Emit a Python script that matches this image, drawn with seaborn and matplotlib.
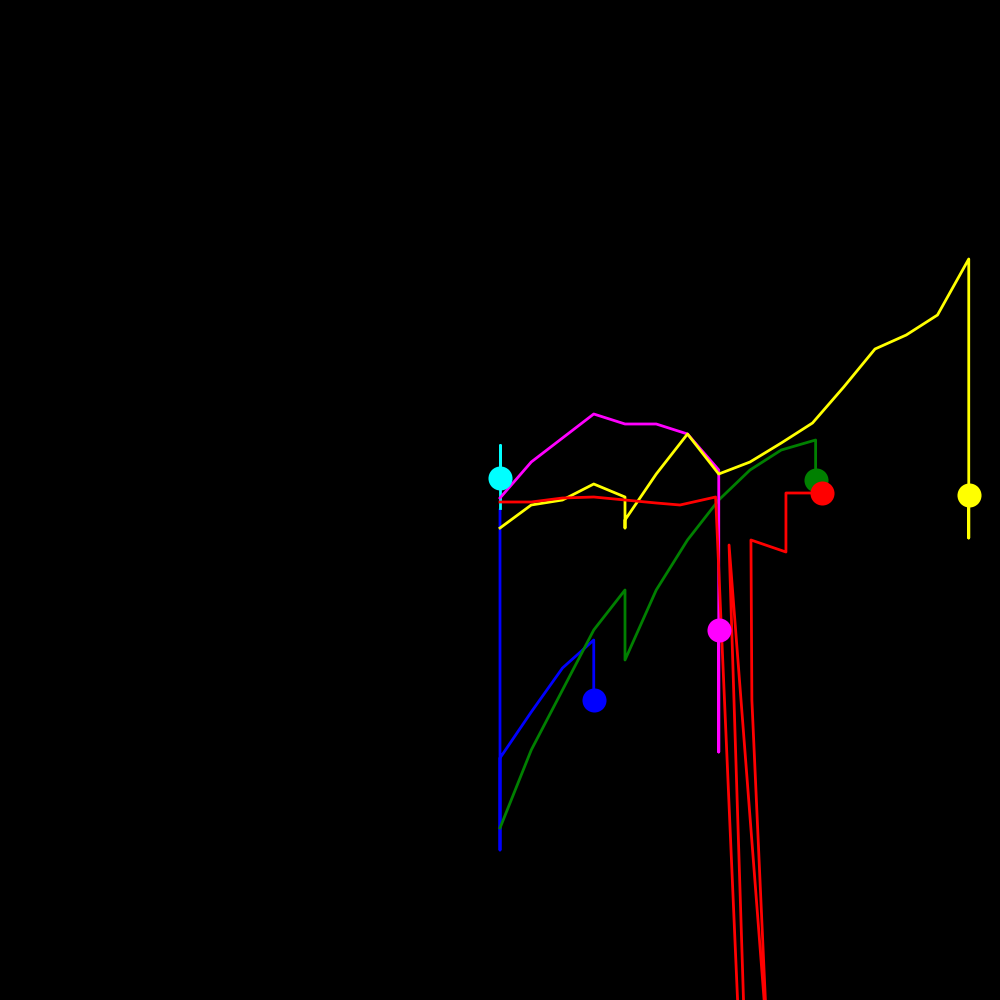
import matplotlib
matplotlib.use('Agg')
import matplotlib.pyplot as plt
import seaborn as sns

# ── Paths (x = step, y = level) ──────────────────────────────
cyan_x = [16, 16, 16]
cyan_y = [49.2, 55.5, 52.2]

blue_x = [16, 16, 16, 17, 18, 19, 19]
blue_y = [49.0, 15.0, 24.2, 28.8, 33.2, 36.0, 30.0]

green_x = [16, 17, 18, 19, 20, 20, 21, 22, 23, 24, 25, 26.1, 26.1]
green_y = [17.2, 25.0, 31.0, 37.0, 41.0, 34.0, 41.0, 46.0, 50.0, 53.0, 55.0, 56.0, 52.0]

magenta_x = [16, 17, 18, 19, 20, 21, 22, 23, 23, 23]
magenta_y = [50.2, 53.8, 56.2, 58.6, 57.6, 57.6, 56.6, 53.0, 24.8, 37.0]

yellow_x = [16, 17, 18, 19, 20, 20, 20, 21, 22, 23, 24, 25, 26, 27, 28, 29, 30, 31, 31, 31]
yellow_y = [47.2, 49.5, 50.0, 51.6, 50.3, 47.2, 48.0, 52.6, 56.6, 52.6, 53.8, 55.7,
            57.7, 61.3, 65.1, 66.5, 68.5, 74.1, 46.2, 50.5]

red_x = [16, 17, 18, 19, 20, 21, 21.76, 22.9, 24.3, 23.33, 24.55, 24.06, 24.03,
         25.15, 25.15, 26.3]
red_y = [49.8, 49.8, 50.2, 50.3, 50.0, 49.7, 49.5, 50.3, -50.0, 45.5, -4.0, 30.0, 46.0,
         44.8, 50.7, 50.7]

# draw order: lines first, then end dots on top
line_order = [
    (blue_x, blue_y, 'blue'),
    (green_x, green_y, 'green'),
    (cyan_x, cyan_y, 'cyan'),
    (magenta_x, magenta_y, 'magenta'),
    (yellow_x, yellow_y, 'yellow'),
    (red_x, red_y, 'red'),
]
dot_order = [
    (cyan_x, cyan_y, 'cyan'),
    (blue_x, blue_y, 'blue'),
    (green_x, green_y, 'green'),
    (magenta_x, magenta_y, 'magenta'),
    (yellow_x, yellow_y, 'yellow'),
    (red_x, red_y, 'red'),
]

fig = plt.figure(figsize=(10, 10), dpi=100, facecolor='black')
ax = fig.add_axes([0, 0, 1, 1])
ax.set_facecolor('black')

z = 2
for xs, ys, col in line_order:
    sns.lineplot(x=xs, y=ys, sort=False, estimator=None, color=col,
                 linewidth=2, ax=ax, zorder=z)
    z += 1

for xs, ys, col in dot_order:
    sns.scatterplot(x=[xs[-1]], y=[ys[-1]], color=col, s=300,
                    linewidth=0, ax=ax, zorder=z)
    z += 1

ax.set_xlim(0, 32)
ax.set_ylim(0, 100)
ax.set_axis_off()

plt.savefig('out.png', dpi=100, facecolor='black')
plt.close()
